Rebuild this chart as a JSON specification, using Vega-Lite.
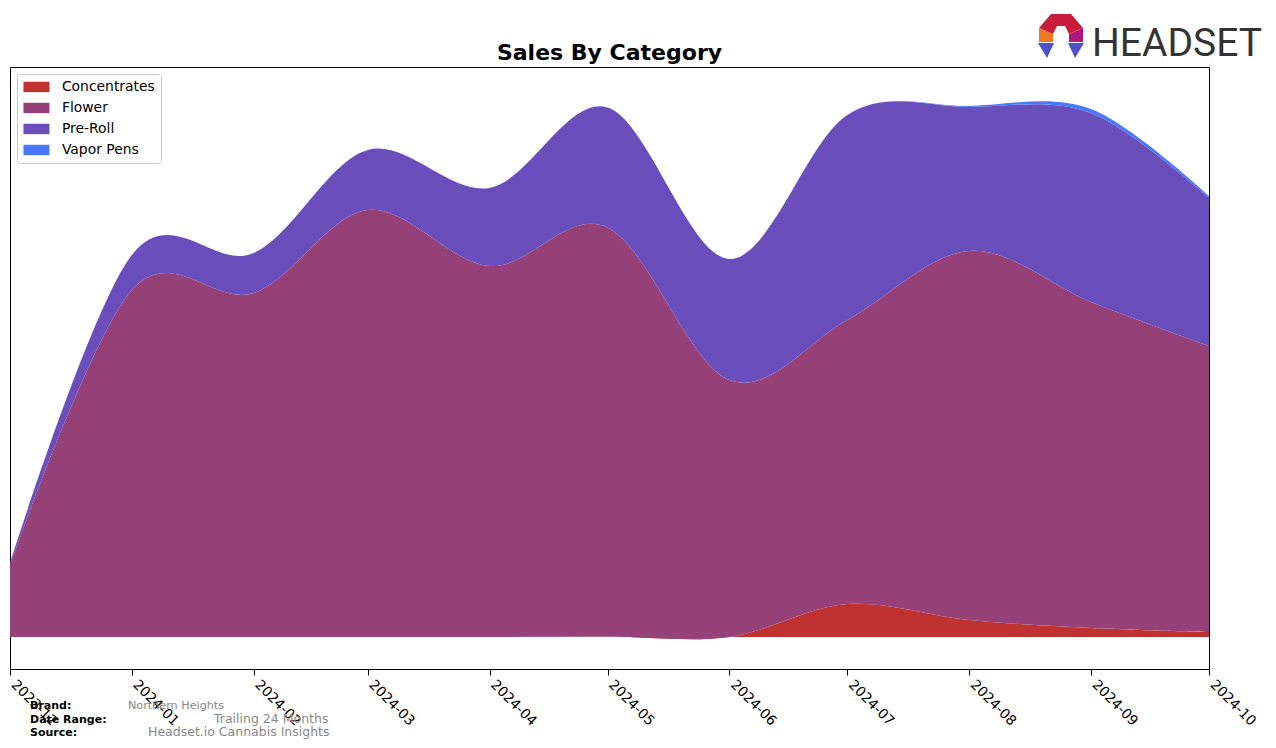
{
  "$schema": "https://vega.github.io/schema/vega-lite/v6.json",
  "width": 1199,
  "height": 602,
  "autosize": "none",
  "padding": {"left": 10, "top": 67, "right": 67, "bottom": 79},
  "background": "white",
  "config": {"view": {"stroke": "#000000", "strokeWidth": 1}, "font": "DejaVu Sans"},
  "layer": [
    {
      "data": {"values": [
        {"month": "2023-12-01", "category": "Concentrates", "sales": 0},
        {"month": "2023-12-01", "category": "Flower", "sales": 72},
        {"month": "2023-12-01", "category": "Pre-Roll", "sales": 2},
        {"month": "2023-12-01", "category": "Vapor Pens", "sales": 0},
        {"month": "2024-01-01", "category": "Concentrates", "sales": 0},
        {"month": "2024-01-01", "category": "Flower", "sales": 347},
        {"month": "2024-01-01", "category": "Pre-Roll", "sales": 35},
        {"month": "2024-01-01", "category": "Vapor Pens", "sales": 0},
        {"month": "2024-02-01", "category": "Concentrates", "sales": 0},
        {"month": "2024-02-01", "category": "Flower", "sales": 344},
        {"month": "2024-02-01", "category": "Pre-Roll", "sales": 40},
        {"month": "2024-02-01", "category": "Vapor Pens", "sales": 0},
        {"month": "2024-03-01", "category": "Concentrates", "sales": 0},
        {"month": "2024-03-01", "category": "Flower", "sales": 427},
        {"month": "2024-03-01", "category": "Pre-Roll", "sales": 60},
        {"month": "2024-03-01", "category": "Vapor Pens", "sales": 0},
        {"month": "2024-04-01", "category": "Concentrates", "sales": 0},
        {"month": "2024-04-01", "category": "Flower", "sales": 371},
        {"month": "2024-04-01", "category": "Pre-Roll", "sales": 78},
        {"month": "2024-04-01", "category": "Vapor Pens", "sales": 0},
        {"month": "2024-05-01", "category": "Concentrates", "sales": 0.5},
        {"month": "2024-05-01", "category": "Flower", "sales": 409},
        {"month": "2024-05-01", "category": "Pre-Roll", "sales": 120},
        {"month": "2024-05-01", "category": "Vapor Pens", "sales": 0},
        {"month": "2024-06-01", "category": "Concentrates", "sales": 0},
        {"month": "2024-06-01", "category": "Flower", "sales": 257},
        {"month": "2024-06-01", "category": "Pre-Roll", "sales": 121},
        {"month": "2024-06-01", "category": "Vapor Pens", "sales": 0},
        {"month": "2024-07-01", "category": "Concentrates", "sales": 33},
        {"month": "2024-07-01", "category": "Flower", "sales": 284},
        {"month": "2024-07-01", "category": "Pre-Roll", "sales": 205},
        {"month": "2024-07-01", "category": "Vapor Pens", "sales": 0},
        {"month": "2024-08-01", "category": "Concentrates", "sales": 17},
        {"month": "2024-08-01", "category": "Flower", "sales": 369},
        {"month": "2024-08-01", "category": "Pre-Roll", "sales": 144},
        {"month": "2024-08-01", "category": "Vapor Pens", "sales": 1},
        {"month": "2024-09-01", "category": "Concentrates", "sales": 9},
        {"month": "2024-09-01", "category": "Flower", "sales": 326},
        {"month": "2024-09-01", "category": "Pre-Roll", "sales": 189},
        {"month": "2024-09-01", "category": "Vapor Pens", "sales": 4},
        {"month": "2024-10-01", "category": "Concentrates", "sales": 5},
        {"month": "2024-10-01", "category": "Flower", "sales": 286},
        {"month": "2024-10-01", "category": "Pre-Roll", "sales": 148},
        {"month": "2024-10-01", "category": "Vapor Pens", "sales": 2}
      ]},
      "mark": {"type": "area", "interpolate": "cardinal"},
      "encoding": {
        "x": {
          "field": "month", "type": "temporal",
          "scale": {"type": "utc", "domain": ["2023-12-01", "2024-10-01"]},
          "axis": {
            "title": null, "format": "%Y-%m", "tickCount": {"interval": "month", "step": 1},
            "labelAngle": 45, "labelAlign": "left", "labelBaseline": "alphabetic",
            "labelFontSize": 13.9, "labelColor": "#000000", "labelFont": "DejaVu Sans",
            "tickColor": "#000000", "domainColor": "#000000", "tickSize": 6,
            "labelPadding": 10, "grid": false, "labelFlush": false, "labelOverlap": false, "labelBound": false
          }
        },
        "y": {
          "field": "sales", "type": "quantitative", "stack": "zero",
          "scale": {"domain": [-32, 570], "nice": false, "zero": false},
          "axis": null
        },
        "color": {
          "field": "category", "type": "nominal",
          "scale": {"domain": ["Concentrates", "Flower", "Pre-Roll", "Vapor Pens"], "range": ["#C03232", "#964278", "#6A4EBC", "#4A78FA"]},
          "legend": {
            "title": null, "orient": "top-left", "offset": 7, "padding": 6,
            "strokeColor": "#cccccc", "fillColor": "#ffffff", "cornerRadius": 3,
            "labelFontSize": 13.9, "labelFont": "DejaVu Sans", "labelColor": "#000000",
            "symbolType": "M-1,-0.8H3V0.8H-1Z", "symbolSize": 169, "symbolStrokeWidth": 0, "symbolOpacity": 1,
            "rowPadding": 6, "labelOffset": 25, "labelLimit": 200
          }
        },
        "order": {"field": "category", "sort": "ascending"}
      }
    },
    {"data": {"values": [{}]}, "mark": {"type": "text", "text": "Sales By Category", "x": 599.5, "y": -7, "align": "center", "baseline": "alphabetic", "fontSize": 22, "fontWeight": "bold", "color": "#000000"}},
    {"data": {"values": [{}]}, "mark": {"type": "text", "text": "Brand:", "x": 20, "y": 642, "align": "left", "baseline": "alphabetic", "fontSize": 11, "fontWeight": "bold", "color": "#000000"}},
    {"data": {"values": [{}]}, "mark": {"type": "text", "text": "Date Range:", "x": 20, "y": 656, "align": "left", "baseline": "alphabetic", "fontSize": 11, "fontWeight": "bold", "color": "#000000"}},
    {"data": {"values": [{}]}, "mark": {"type": "text", "text": "Source:", "x": 20, "y": 669, "align": "left", "baseline": "alphabetic", "fontSize": 11, "fontWeight": "bold", "color": "#000000"}},
    {"data": {"values": [{}]}, "mark": {"type": "text", "text": "Northern Heights", "x": 118, "y": 642, "align": "left", "baseline": "alphabetic", "fontSize": 11.2, "color": "#888888"}},
    {"data": {"values": [{}]}, "mark": {"type": "text", "text": "Trailing 24 Months", "x": 204, "y": 656, "align": "left", "baseline": "alphabetic", "fontSize": 12.5, "color": "#888888"}},
    {"data": {"values": [{}]}, "mark": {"type": "text", "text": "Headset.io Cannabis Insights", "x": 138, "y": 669, "align": "left", "baseline": "alphabetic", "fontSize": 12.5, "color": "#888888"}},
    {"data": {"values": [{}]}, "mark": {"type": "text", "text": "HEADSET", "x": 1082, "y": -11, "align": "left", "baseline": "alphabetic", "fontSize": 39, "font": "Roboto", "color": "#333333"}},
    {"data": {"values": [{}]}, "mark": {"type": "point", "x": 1051, "y": -31, "size": 4, "filled": true, "opacity": 1, "strokeWidth": 0, "color": "#F07A22", "shape": "M-22,-8L-8,-2L-8,6L-22,6Z"}},
    {"data": {"values": [{}]}, "mark": {"type": "point", "x": 1051, "y": -31, "size": 4, "filled": true, "opacity": 1, "strokeWidth": 0, "color": "#C81E3C", "shape": "M-22,-8L-10,-22L10,-22L22,-8L8,-2L4,-10L-4,-10L-8,-2Z"}},
    {"data": {"values": [{}]}, "mark": {"type": "point", "x": 1051, "y": -31, "size": 4, "filled": true, "opacity": 1, "strokeWidth": 0, "color": "#B3157F", "shape": "M22,-8L22,6L8,6L8,-2Z"}},
    {"data": {"values": [{}]}, "mark": {"type": "point", "x": 1051, "y": -31, "size": 4, "filled": true, "opacity": 1, "strokeWidth": 0, "color": "#5050C8", "shape": "M-23,7L-7,7L-14,22Z"}},
    {"data": {"values": [{}]}, "mark": {"type": "point", "x": 1051, "y": -31, "size": 4, "filled": true, "opacity": 1, "strokeWidth": 0, "color": "#5050C8", "shape": "M7,7L23,7L14,22Z"}}
  ]
}
